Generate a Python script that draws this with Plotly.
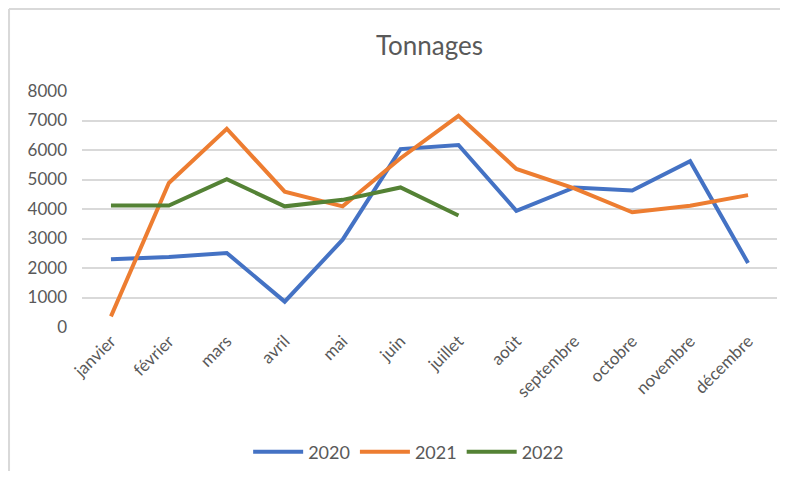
import plotly.graph_objects as go

months = ["janvier", "février", "mars", "avril", "mai", "juin", "juillet",
          "août", "septembre", "octobre", "novembre", "décembre"]
y2020 = [2300, 2370, 2510, 860, 2960, 6030, 6170, 3940, 4730, 4630, 5620, 2170]
y2021 = [360, 4880, 6720, 4590, 4090, 5720, 7160, 5360, 4700, 3890, 4110, 4470]
y2022 = [4120, 4120, 5010, 4090, 4310, 4730, 3780]
y_ticks = [0, 1000, 2000, 3000, 4000, 5000, 6000, 7000, 8000]

series = [("2020", y2020, "#4472C4"), ("2021", y2021, "#ED7D31"), ("2022", y2022, "#548235")]

fig = go.Figure()
for name, vals, col in series:
    fig.add_trace(go.Scatter(x=months[:len(vals)], y=vals, name=name, mode="lines",
                             line=dict(color=col, width=4)))

font_fam = "Lato, 'Open Sans', sans-serif"
W, H = 772, 463
fig.update_layout(
    width=W, height=H,
    margin=dict(l=74, r=3, t=83, b=144, autoexpand=False),
    paper_bgcolor="white", plot_bgcolor="white",
    title=dict(text="Tonnages", x=0.5, xanchor="center", xref="paper", y=1 - 38 / H, yanchor="middle",
               font=dict(family=font_fam, size=26, color="#595959")),
    font=dict(family=font_fam, size=17, color="#595959"),
    showlegend=True,
    legend=dict(orientation="h", x=0.47, xanchor="center", xref="paper",
                y=1 - 444 / H, yref="container", yanchor="middle",
                font=dict(size=18, color="#595959"), itemwidth=50),
    xaxis=dict(type="category", categoryorder="array", categoryarray=months,
               range=[-0.5, 11.5], tickangle=-45, showgrid=False, showline=False,
               ticks="", tickfont=dict(size=17, color="#595959"), automargin=False),
    yaxis=dict(range=[0, 8000], tickvals=y_ticks, showgrid=True, gridcolor="#D9D9D9",
               gridwidth=1.5, zeroline=False, showline=False, ticks="", automargin=False,
               ticklabelstandoff=14, tickfont=dict(size=17, color="#595959")),
)
fig.add_shape(type="line", xref="paper", yref="paper", x0=-0.105, x1=-0.105, y0=-0.7, y1=1.347,
              line=dict(color="#D9D9D9", width=2))
fig.add_shape(type="line", xref="paper", yref="paper", x0=-0.105, x1=1.05, y0=1.347, y1=1.347,
              line=dict(color="#D9D9D9", width=2))
fig.write_html("out.html")
